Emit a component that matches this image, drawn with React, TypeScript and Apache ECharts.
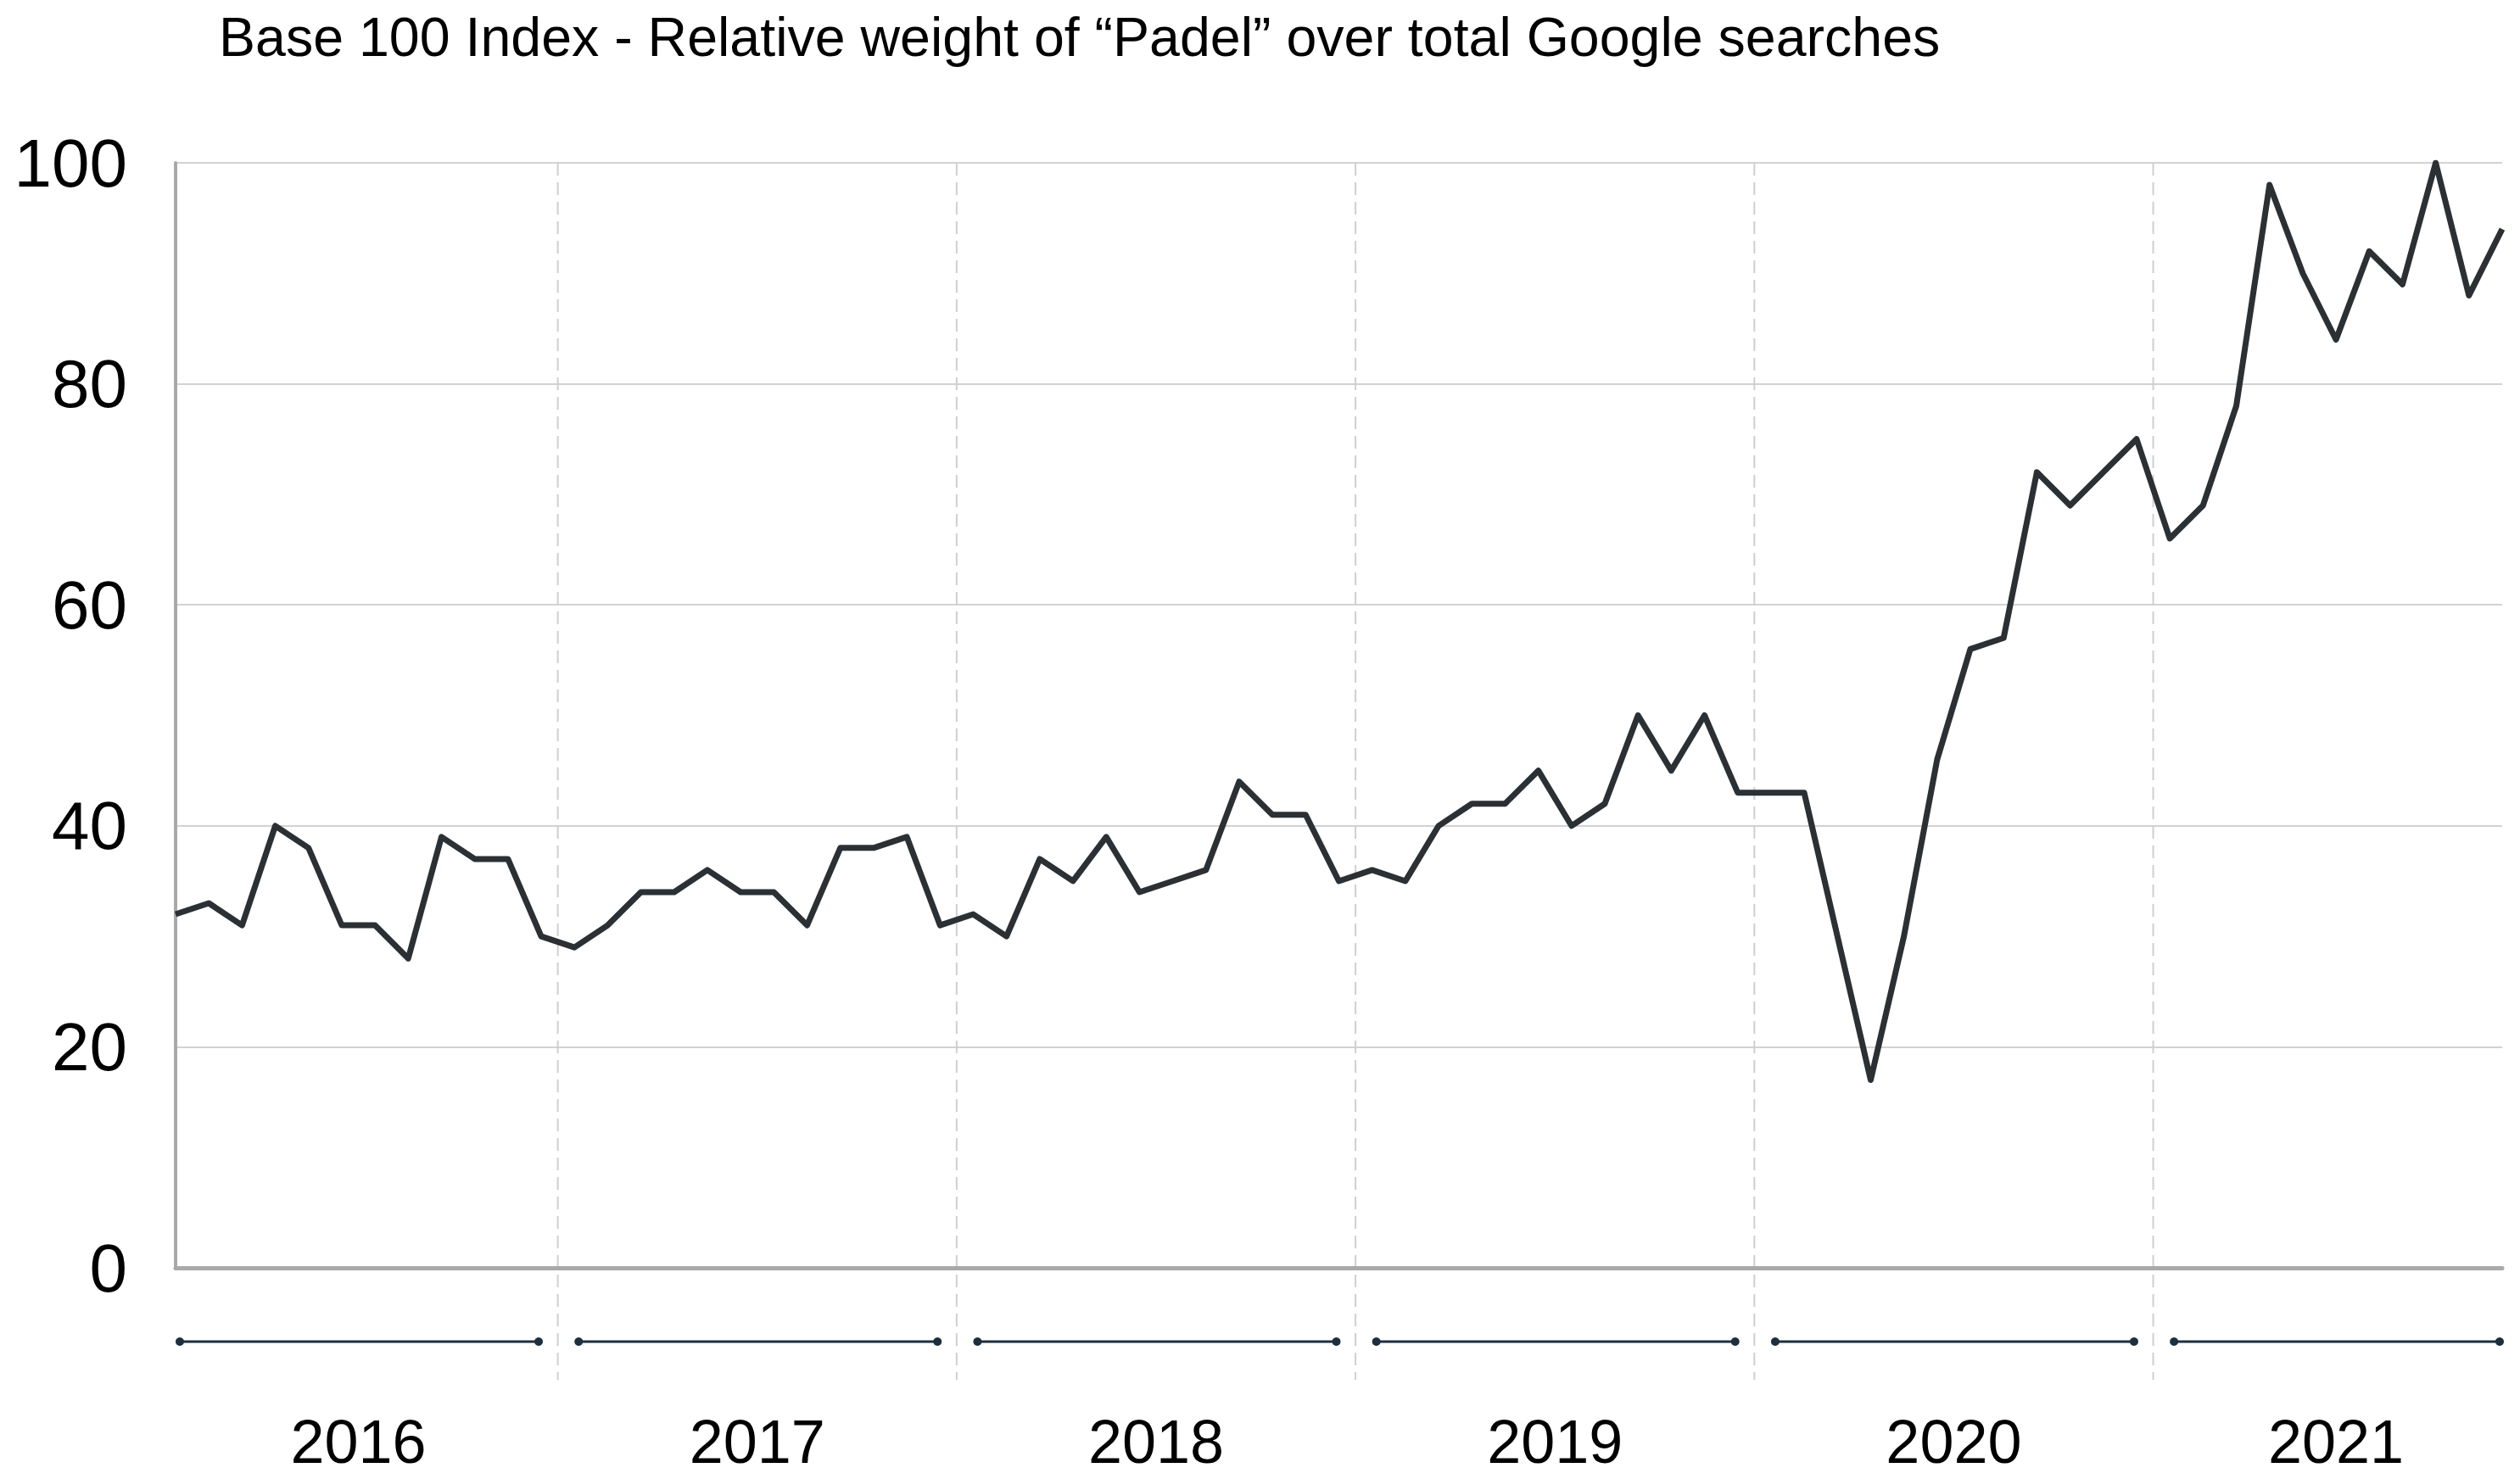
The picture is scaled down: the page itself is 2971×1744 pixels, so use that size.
import React, { useEffect, useRef } from 'react';
import * as echarts from 'echarts';

const TITLE = 'Base 100 Index - Relative weight of “Padel” over total Google searches';
const YEARS = ['2016', '2017', '2018', '2019', '2020', '2021'];
const V2016 = [32, 33, 31, 40, 38, 31, 31, 28, 39, 37, 37, 30];
const V2017 = [29, 31, 34, 34, 36, 34, 34, 31, 38, 38, 39, 31];
const V2018 = [32, 30, 37, 35, 39, 34, 35, 36, 44, 41, 41, 35];
const V2019 = [36, 35, 40, 42, 42, 45, 40, 42, 50, 45, 50, 43];
const V2020 = [43, 43, 30, 17, 30, 46, 56, 57, 72, 69, 72, 75];
const V2021 = [66, 69, 78, 98, 90, 84, 92, 89, 100, 88, 94];
const YEAR_VALUES = [V2016, V2017, V2018, V2019, V2020, V2021];
const Y_MIN = 0;
const Y_MAX = 100;
const Y_STEP = 20;

const FONT = '"Liberation Sans", Arial, Helvetica, sans-serif';

export default function App() {
  const ref = useRef<HTMLDivElement>(null);

  useEffect(() => {
    document.body.style.margin = '0';
    const chart = echarts.init(ref.current!, null, { renderer: 'svg' });

    const categories: string[] = [];
    const values: number[] = [];
    const yearSpans: number[][] = [];
    YEARS.forEach((y, yi) => {
      const first = categories.length;
      YEAR_VALUES[yi].forEach((v, m) => {
        categories.push(`${y}-${String(m + 1).padStart(2, '0')}`);
        values.push(v);
      });
      yearSpans.push([first, categories.length - 1, yi, 0]);
    });

    const option: any = {
      animation: false,
      backgroundColor: '#ffffff',
      title: {
        text: TITLE,
        left: 258,
        top: 11,
        padding: 0,
        textStyle: { fontSize: 64.5, fontWeight: 'normal', color: '#000', fontFamily: FONT },
      },
      grid: { left: 207, right: 21, top: 192, bottom: 249, containLabel: false },
      xAxis: {
        type: 'category',
        data: categories,
        boundaryGap: false,
        axisLine: {
          show: true,
          onZero: false,
          lineStyle: { color: '#a9a9a9', width: 5 },
        },
        axisTick: { show: false },
        axisLabel: { show: false },
        splitLine: { show: false },
        z: 2,
      },
      yAxis: {
        type: 'value',
        min: Y_MIN,
        max: Y_MAX,
        interval: Y_STEP,
        axisLine: {
          show: true,
          lineStyle: { color: '#a9a9a9', width: 4 },
        },
        axisTick: { show: false },
        axisLabel: { fontSize: 80, color: '#000', fontFamily: FONT, margin: 57 },
        splitLine: { show: true, lineStyle: { color: '#d2d2d2', width: 2 } },
      },
      series: [
        {
          type: 'custom',
          z: 1,
          clip: false,
          silent: true,
          encode: { x: 0, y: 3 },
          data: yearSpans,
          renderItem: (params: any, api: any) => {
            const first = api.value(0);
            const last = api.value(1);
            const yi = api.value(2);
            const p1 = api.coord([first, 0]);
            const p2 = api.coord([last, 0]);
            const top = api.coord([first, Y_MAX])[1];
            const bottom = p1[1];
            const by = bottom + 87;
            const x1 = p1[0] + 5;
            const x2 = p2[0] - 3;
            const c = '#1d2f3d';
            const children: any[] = [
              { type: 'line', shape: { x1, y1: by, x2, y2: by }, style: { stroke: c, lineWidth: 3 } },
              { type: 'circle', shape: { cx: x1, cy: by, r: 5 }, style: { fill: c } },
              { type: 'circle', shape: { cx: x2, cy: by, r: 5 }, style: { fill: c } },
              {
                type: 'text',
                x: (p1[0] + p2[0]) / 2,
                y: bottom + 205,
                style: {
                  text: YEARS[yi],
                  fontSize: 72,
                  fontFamily: FONT,
                  fill: '#000',
                  align: 'center',
                  verticalAlign: 'middle',
                },
              },
            ];
            if (first > 0) {
              const prev = api.coord([first - 1, 0])[0];
              const dx = (prev + p1[0]) / 2;
              children.push({
                type: 'line',
                shape: { x1: dx, y1: top, x2: dx, y2: bottom + 132 },
                style: { stroke: '#cfcfcf', lineWidth: 2, lineDash: [15, 8] },
              });
            }
            return { type: 'group', children };
          },
        },
        {
          type: 'line',
          z: 3,
          data: values,
          showSymbol: false,
          lineStyle: { color: '#2b3034', width: 7, join: 'round' },
        },
      ],
    };

    chart.setOption(option);
    return () => chart.dispose();
  }, []);

  return <div ref={ref} style={{ width: 2971, height: 1744 }} />;
}
